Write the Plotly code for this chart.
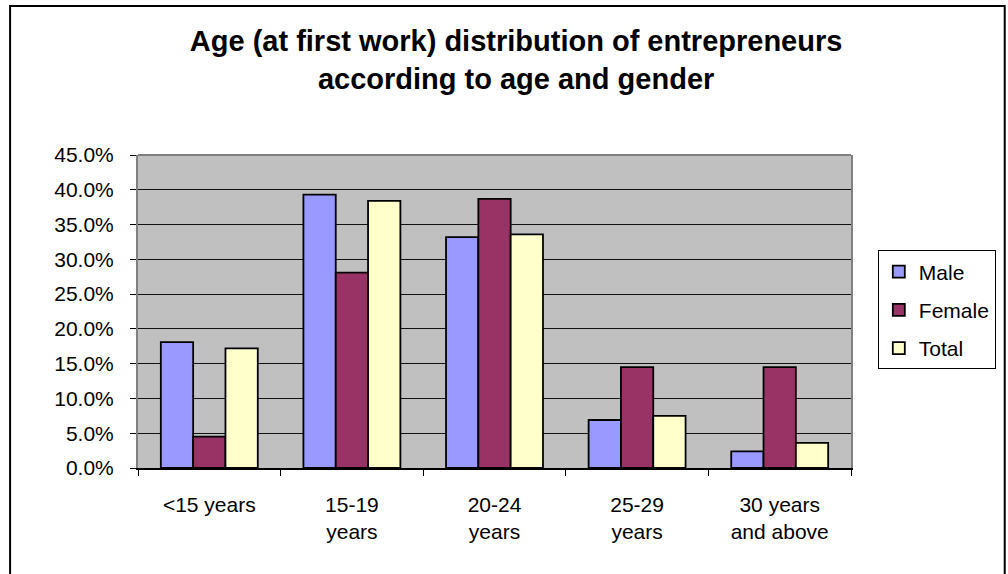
import plotly.graph_objects as go

categories = ["<15 years", "15-19<br>years", "20-24<br>years", "25-29<br>years", "30 years<br>and above"]
male = [0.181, 0.393, 0.332, 0.069, 0.024]
female = [0.045, 0.281, 0.387, 0.145, 0.145]
total = [0.172, 0.384, 0.336, 0.075, 0.036]
y_ticks = [0.0, 0.05, 0.10, 0.15, 0.20, 0.25, 0.30, 0.35, 0.40, 0.45]

FONT = "Liberation Sans, Arial, sans-serif"
fig = go.Figure()
for name, vals, col, grp in [("Male", male, "#9999FF", "a"),
                             ("Female", female, "#993366", "b"),
                             ("Total", total, "#FFFFCC", "c")]:
    fig.add_trace(go.Bar(x=categories, y=vals, name=name, legendgroup=grp,
                         marker=dict(color=col, line=dict(color="black", width=1.8))))

fig.update_layout(
    width=1008, height=574,
    margin=dict(l=138, r=151, t=155, b=106),
    paper_bgcolor="white", plot_bgcolor="#C0C0C0",
    barmode="group", bargap=0.32, bargroupgap=0,
    font=dict(family=FONT, size=21, color="black"),
    title=dict(text="Age (at first work) distribution of entrepreneurs<br>according to age and gender",
               x=0.512, xanchor="center", xref="container",
               y=1 - 51/574, yanchor="top", yref="container",
               font=dict(family=FONT, size=29, color="black", weight="bold")),
    legend=dict(x=1.0376, xanchor="left", y=0.695, yanchor="top",
                bgcolor="white", bordercolor="black", borderwidth=1,
                tracegroupgap=8, font=dict(size=21)),
    showlegend=True,
)
fig.update_xaxes(type="category", tickson="boundaries", ticks="outside", ticklen=6,
                 tickcolor="black", showline=True, linecolor="black", linewidth=1.5,
                 showgrid=False, ticklabelstandoff=17)
fig.update_yaxes(range=[0, 0.45], tickvals=y_ticks, tickformat=".1%", ticks="outside",
                 ticklen=6, tickcolor="black", showline=True, linecolor="#808080",
                 linewidth=2, mirror=True, showgrid=True, gridcolor="#111111", gridwidth=1,
                 zeroline=False, ticklabelstandoff=12)
fig.add_shape(type="line", xref="paper", yref="paper", x0=0, x1=1, y0=1, y1=1,
              line=dict(color="#808080", width=2))
fig.add_shape(type="rect", xref="paper", yref="paper", x0=-0.1794, x1=1.2156,
              y0=-0.358, y1=1.476, line=dict(color="black", width=2))
fig.write_html("out.html", config={"displayModeBar": False},
               post_script="document.body.style.margin='0';")
